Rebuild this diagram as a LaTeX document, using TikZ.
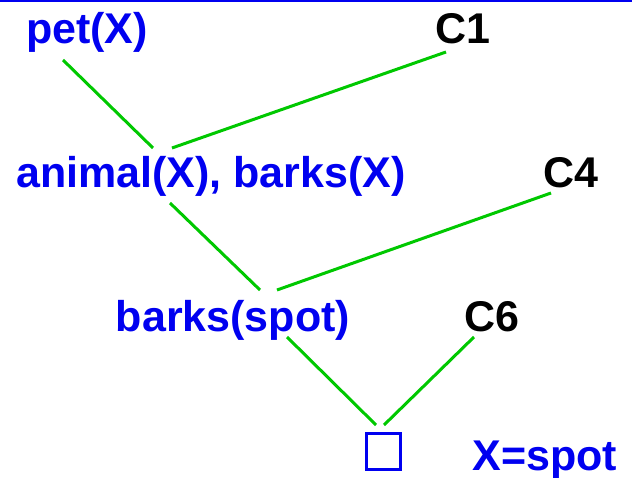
\documentclass[tikz,border=0pt]{standalone}
\usepackage{fontspec}
\setmainfont{Liberation Sans}
\definecolor{goalblue}{RGB}{0,0,240}
\definecolor{linkgreen}{RGB}{0,200,0}
\tikzset{
  goal/.style={text=goalblue, font=\fontsize{43}{50}\selectfont\bfseries, inner sep=0pt, anchor=base},
  clause/.style={text=black, font=\fontsize{43}{50}\selectfont\bfseries, inner sep=0pt, anchor=base},
  link/.style={draw=linkgreen, line width=3pt},
  emptybox/.style={draw=goalblue, line width=3pt, minimum width=34pt, minimum height=36pt, inner sep=0pt}
}
\begin{document}
\begin{tikzpicture}[x=1pt, y=-1pt]
  \useasboundingbox (0,0) rectangle (632,478);
  % rule along the top edge
  \fill[goalblue] (0,0) rectangle (632,2.5);

  % goals and clauses
  \node[goal]   (pet)    at (87,44)  {pet(X)};
  \node[clause] (c1)     at (463,44) {C1};
  \node[goal]   (animal) at (211,188) {animal(X), barks(X)};
  \node[clause] (c4)     at (571,188) {C4};
  \node[goal]   (barks)  at (233,331) {barks(spot)};
  \node[clause] (c6)     at (492,331) {C6};
  \node[emptybox] (empty) at (383.5,451) {};
  \node[goal]   (subst)  at (545,470) {X=spot};

  % attachment points of the resolution links
  \coordinate (petE)  at (63,60);
  \coordinate (c1E)   at (446,52);
  \coordinate (animalT1) at (153,148);
  \coordinate (animalT2) at (172,148);
  \coordinate (animalE) at (170,203);
  \coordinate (c4E)   at (551,193);
  \coordinate (barksT1) at (260,290);
  \coordinate (barksT2) at (277,290);
  \coordinate (barksE) at (287,337);
  \coordinate (c6E)   at (474,337);
  \coordinate (emptyT1) at (376,425);
  \coordinate (emptyT2) at (384,425);

  \draw[link] (petE) -- (animalT1);
  \draw[link] (c1E) -- (animalT2);
  \draw[link] (animalE) -- (barksT1);
  \draw[link] (c4E) -- (barksT2);
  \draw[link] (barksE) -- (emptyT1);
  \draw[link] (c6E) -- (emptyT2);
\end{tikzpicture}
\end{document}
